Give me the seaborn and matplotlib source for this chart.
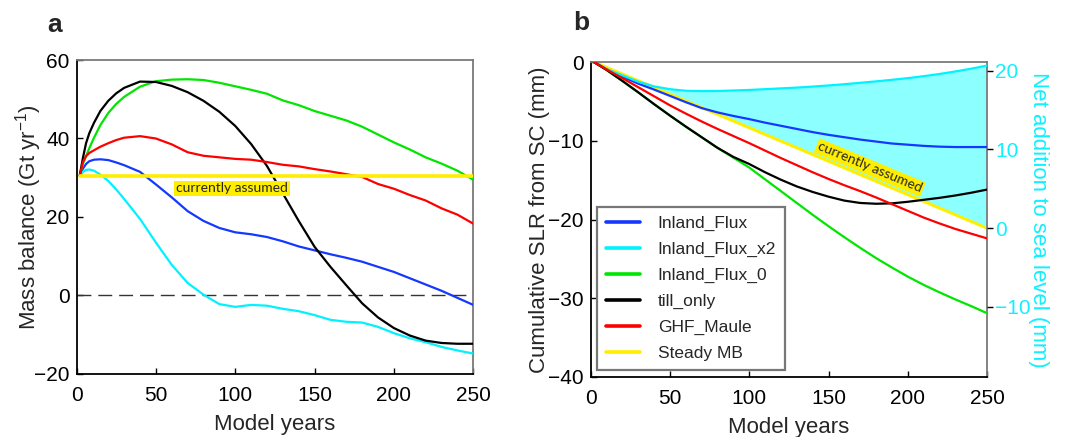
import numpy as np
import seaborn as sns
import matplotlib.pyplot as plt

# ---- panel a: mass balance (Gt/yr) ----
years_a = [2, 4, 6, 8, 11, 15, 20, 25, 30, 40, 50, 60, 70, 80, 90, 100, 110, 120,
           130, 140, 150, 160, 170, 180, 190, 200, 210, 220, 230, 240, 250]
mb_inland_flux = [30.5, 32.3, 33.5, 34.2, 34.6, 34.7, 34.5, 33.9, 33.2, 31.5, 28.3, 25.0,
                  21.5, 19.0, 17.2, 16.1, 15.6, 14.9, 13.8, 12.5, 11.5, 10.5, 9.6, 8.6,
                  7.3, 6.0, 4.4, 2.8, 1.2, -0.6, -2.4]
mb_inland_flux_x2 = [30.5, 31.5, 32.0, 32.1, 31.8, 30.8, 29.2, 27.0, 24.6, 19.5, 13.5, 7.8,
                     3.2, 0.2, -2.2, -2.9, -2.4, -2.6, -3.4, -4.0, -5.0, -6.2, -6.7, -6.9,
                     -8.0, -9.6, -10.9, -11.9, -13.1, -14.0, -14.8]
mb_inland_flux_0 = [30.5, 33.5, 35.5, 37.5, 40.2, 43.4, 46.5, 48.8, 50.6, 53.2, 54.6, 55.0,
                    55.1, 54.9, 54.2, 53.3, 52.4, 51.4, 49.7, 48.5, 47.0, 45.8, 44.6, 43.0,
                    41.0, 39.0, 37.2, 35.2, 33.6, 31.8, 29.5]
mb_till_only = [30.5, 35.0, 38.8, 41.3, 44.0, 47.0, 49.6, 51.5, 52.9, 54.5, 54.4, 53.4,
                51.8, 49.6, 46.8, 43.2, 38.6, 33.0, 26.0, 19.0, 12.4, 7.3, 2.6, -2.0,
                -5.6, -8.3, -10.2, -11.5, -12.1, -12.3, -12.3]
mb_ghf_maule = [30.5, 34.0, 35.5, 36.3, 37.0, 37.9, 38.8, 39.6, 40.2, 40.6, 40.0, 38.5,
                36.5, 35.6, 35.2, 34.8, 34.6, 34.0, 33.3, 32.9, 32.2, 31.6, 30.9, 30.2,
                28.4, 27.2, 25.6, 24.2, 22.2, 20.6, 18.3]
steady_years = [2, 250]
mb_steady = [30.5, 30.5]

# ---- panel b: cumulative SLR from SC (mm) ----
years_b = [2, 10, 20, 30, 40, 50, 60, 70, 80, 90, 100, 110, 120, 130, 140, 150, 160,
           170, 180, 190, 200, 210, 220, 230, 240, 250]
slr_inland_flux = [0, -0.9, -1.85, -2.75, -3.5, -4.3, -5.1, -5.85, -6.4, -6.85, -7.25,
                   -7.7, -8.1, -8.5, -8.9, -9.25, -9.55, -9.85, -10.1, -10.35, -10.5,
                   -10.65, -10.75, -10.8, -10.8, -10.8]
slr_inland_flux_x2 = [0, -0.9, -1.7, -2.5, -3.1, -3.45, -3.65, -3.7, -3.68, -3.62, -3.55,
                      -3.45, -3.35, -3.25, -3.12, -2.98, -2.82, -2.64, -2.46, -2.26, -2.05,
                      -1.8, -1.52, -1.2, -0.85, -0.45]
slr_inland_flux_0 = [0, -1.0, -2.4, -3.85, -5.35, -6.8, -8.2, -9.55, -10.9, -12.15, -13.4,
                     -14.9, -16.4, -17.9, -19.4, -20.85, -22.25, -23.6, -24.9, -26.1,
                     -27.25, -28.3, -29.25, -30.15, -31.0, -31.9]
slr_till_only = [0, -1.0, -2.4, -3.85, -5.35, -6.8, -8.2, -9.55, -10.9, -12.05, -12.95,
                 -14.0, -14.95, -15.8, -16.5, -17.1, -17.6, -17.9, -18.0, -17.95, -17.75,
                 -17.5, -17.25, -16.95, -16.6, -16.2]
slr_ghf_maule = [0, -0.95, -2.05, -3.2, -4.35, -5.5, -6.55, -7.55, -8.5, -9.4, -10.3,
                 -11.25, -12.2, -13.1, -14.0, -14.85, -15.65, -16.4, -17.2, -18.05, -18.9,
                 -19.75, -20.5, -21.2, -21.8, -22.4]
slr_steady = [0, -21.1]
net_offset = 21.1  # right axis zero = steady MB end value

labels = ['Inland_Flux', 'Inland_Flux_x2', 'Inland_Flux_0', 'till_only', 'GHF_Maule', 'Steady MB']
colors = ['#1438ff', '#00f2ff', '#00e600', '#000000', '#ff0000', '#ffee00']
fill_color = '#8cffff'
net_color = '#10f0ff'

sns.set_style('ticks')
plt.rcParams['font.family'] = ['Liberation Sans', 'DejaVu Sans']
plt.rcParams['mathtext.fontset'] = 'custom'
plt.rcParams['mathtext.rm'] = 'Liberation Sans'
plt.rcParams['mathtext.default'] = 'regular'

fig = plt.figure(figsize=(10.81, 4.37), dpi=100)
ax_a = fig.add_axes([0.0708, 0.1442, 0.3670, 0.7185])
ax_b = fig.add_axes([0.5464, 0.1373, 0.3667, 0.7208])

# panel a
ax_a.axhline(0, color='#333333', lw=1.0, dashes=(10, 5), zorder=1)
series_a = [mb_inland_flux, mb_inland_flux_x2, mb_inland_flux_0, mb_till_only, mb_ghf_maule]
for vals, c in zip(series_a, colors[:5]):
    sns.lineplot(x=years_a, y=vals, color=c, lw=1.6, ax=ax_a, zorder=3)
sns.lineplot(x=steady_years, y=mb_steady, color=colors[5], lw=2.6, ax=ax_a, zorder=4)
ax_a.text(98, 27.3, 'currently assumed', family='Lato', fontsize=10, ha='center', va='center',
          bbox=dict(boxstyle='square,pad=0.12', fc='#ffee00', ec='none'), zorder=5)
ax_a.set_xlim(0, 250)
ax_a.set_ylim(-20, 60)
ax_a.set_xticks(range(0, 251, 50))
ax_a.set_yticks(range(-20, 61, 20))
ax_a.set_xlabel('Model years', fontsize=16, labelpad=6)
ax_a.set_ylabel('Mass balance (Gt yr$^{-1}$)', fontsize=16)
ax_a.yaxis.set_label_coords(-0.082, 0.5)

# panel b
ax_b.fill(np.r_[years_b, steady_years[::-1]], np.r_[slr_inland_flux_x2, slr_steady[::-1]],
          color=fill_color, lw=0, zorder=1)
series_b = [slr_inland_flux, slr_inland_flux_x2, slr_inland_flux_0, slr_till_only, slr_ghf_maule]
for vals, c, lab in zip(series_b, colors[:5], labels[:5]):
    sns.lineplot(x=years_b, y=vals, color=c, lw=1.6, ax=ax_b, label=lab, zorder=3)
sns.lineplot(x=steady_years, y=slr_steady, color=colors[5], lw=2.2, ax=ax_b, label=labels[5], zorder=2.5)
ax_b.text(176, -13.4, 'currently assumed', family='Lato', fontsize=10, ha='center', va='center',
          rotation=-22.7, rotation_mode='anchor',
          bbox=dict(boxstyle='square,pad=0.12', fc='#ffee00', ec='none'), zorder=5)
ax_b.set_xlim(0, 250)
ax_b.set_ylim(-40, 0)
ax_b.set_xticks(range(0, 251, 50))
ax_b.set_yticks(range(-40, 1, 10))
ax_b.set_xlabel('Model years', fontsize=16, labelpad=6)
ax_b.set_ylabel('Cumulative SLR from SC (mm)', fontsize=16)
ax_b.yaxis.set_label_coords(-0.103, 0.5)
leg = ax_b.legend(loc='lower left', bbox_to_anchor=(0.016, 0.022), borderaxespad=0,
                  fontsize=12.5, handlelength=2.0, handletextpad=1.0, labelspacing=0.62,
                  fancybox=False, framealpha=1, borderpad=0.5)
leg.get_frame().set_edgecolor('#777777')
leg.get_frame().set_linewidth(1.6)
for line in leg.get_lines():
    line.set_linewidth(2.6)

ax_r = ax_b.twinx()
ax_r.set_ylim(-40 + net_offset, 0 + net_offset)
ax_r.set_yticks([-10, 0, 10, 20])
ax_r.tick_params(axis='y', direction='out', length=4, width=1, colors='black',
                 labelcolor=net_color, labelsize=15, pad=2)
ax_r.set_ylabel('Net addition to sea level (mm)', color=net_color, fontsize=16,
                rotation=270, labelpad=13)

for ax in (ax_a, ax_b):
    ax.tick_params(direction='in', length=4, width=1, labelsize=15, colors='black')
    ax.tick_params(axis='x', pad=9)
    ax.tick_params(axis='y', pad=5)
    for side in ('left', 'bottom'):
        ax.spines[side].set_color('black')
        ax.spines[side].set_linewidth(1.3)
    for side in ('top', 'right'):
        ax.spines[side].set_color('#7a7a7a')
        ax.spines[side].set_linewidth(1.3)
for side in ax_r.spines:
    ax_r.spines[side].set_visible(False)

fig.text(47 / 1081, 1 - 32 / 437, 'a', fontsize=19, fontweight='bold', va='baseline')
fig.text(573 / 1081, 1 - 30 / 437, 'b', fontsize=19, fontweight='bold', va='baseline')

fig.savefig('out.png', dpi=100)
